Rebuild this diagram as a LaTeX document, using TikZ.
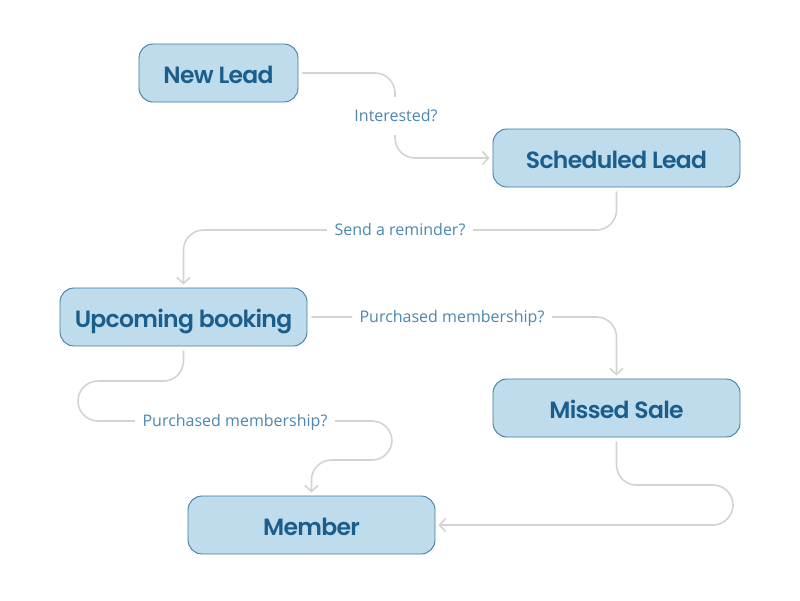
\documentclass[tikz,border=0pt]{standalone}
\usepackage{fontspec}
\setmainfont{Open Sans}
\newfontfamily\boxfont{Poppins SemiBold}[LetterSpace=-3]
\usetikzlibrary{arrows.meta}
\definecolor{boxfill}{HTML}{BFDCED}
\definecolor{boxline}{HTML}{3F7BA3}
\definecolor{boxtext}{HTML}{1B5E8C}
\definecolor{labtext}{HTML}{4A87B1}
\definecolor{linkcol}{HTML}{D3D3D3}
\tikzset{
  statebox/.style={draw=boxline, line width=0.9pt, fill=boxfill, rounded corners=14pt,
    minimum height=58pt, inner sep=0pt, text height=22pt, text depth=2pt, text=boxtext,
    font=\boxfont\fontsize{23.5}{27}\selectfont},
  lab/.style={fill=white, text=labtext, inner xsep=8pt, inner ysep=12.5pt,
    text height=12pt, text depth=0.6pt, font=\fontsize{16}{19}\selectfont},
  link/.style={draw=linkcol, line width=1.6pt, rounded corners=20pt},
  arr/.style={link, -{Straight Barb[length=6pt,width=13pt]}, shorten >=3pt, shorten <=4pt}
}
\begin{document}
\begin{tikzpicture}[x=1pt,y=-1pt]
\useasboundingbox (0,0) rectangle (800,600);
\node[statebox, minimum width=159pt] (nl) at (218.5,73) {New Lead};
\node[statebox, minimum width=247pt] (sl) at (616.5,158) {Scheduled Lead};
\node[statebox, minimum width=247pt] (ub) at (183.5,317) {Upcoming booking};
\node[statebox, minimum width=247pt] (ms) at (616.5,408) {Missed Sale};
\node[statebox, minimum width=247pt] (mb) at (311.5,525) {Member};

\coordinate (a1) at (395,73);
\coordinate (a2) at (395,158);
\draw[arr] (nl.east) -- (a1) -- (a2) -- (sl.west);
\node[lab] (l1) at (396,116) {Interested?};

\coordinate (b1) at (616.5,230);
\coordinate (b2) at (183.5,230);
\draw[arr] (sl.south) -- (b1) -- (b2) -- (ub.north);
\node[lab] (l2) at (400,230) {Send a reminder?};

\coordinate (c1) at (616.5,317);
\draw[arr] (ub.east) -- (c1) -- (ms.north);
\node[lab] (l3) at (452,317) {Purchased membership?};

\coordinate (d1) at (183.5,381);
\coordinate (d2) at (78,381);
\coordinate (d3) at (78,421);
\coordinate (d4) at (392,421);
\coordinate (d5) at (392,460);
\coordinate (d6) at (311.5,460);
\draw[arr] (ub.south) -- (d1) -- (d2) -- (d3) -- (d4) -- (d5) -- (d6) -- (mb.north);
\node[lab] (l4) at (235,421) {Purchased membership?};

\coordinate (e1) at (616.5,485);
\coordinate (e2) at (733,485);
\coordinate (e3) at (733,525);
\draw[arr] (ms.south) -- (e1) -- (e2) -- (e3) -- (mb.east);
\end{tikzpicture}
\end{document}
